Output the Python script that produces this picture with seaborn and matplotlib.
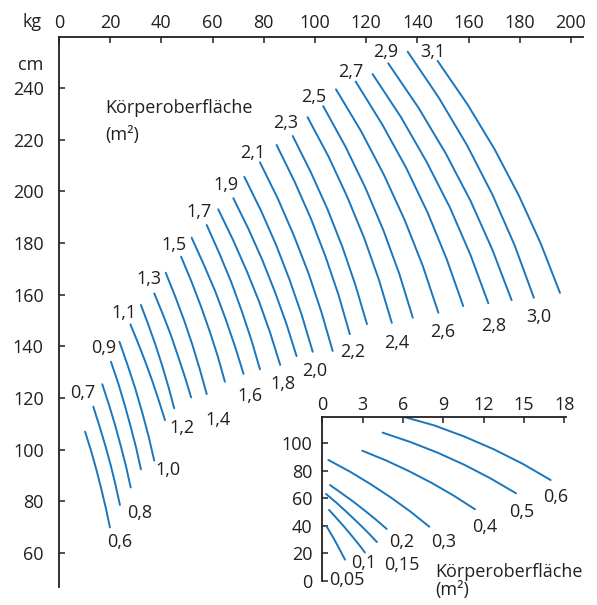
import matplotlib
matplotlib.use("Agg")
import matplotlib.pyplot as plt
import seaborn as sns
import pandas as pd

sns.set_theme(style="white")
plt.rcParams['font.family'] = ['Open Sans', 'DejaVu Sans']

BLUE = "#1a76bd"
INK = "#231f20"
FS = 13

# ---------------- main nomogram data (kg, cm) -----------------
main_bsa = [0.6, 0.7, 0.8, 0.9, 1.0, 1.1, 1.2, 1.3, 1.4, 1.5, 1.6, 1.7, 1.8,
            1.9, 2.0, 2.1, 2.2, 2.3, 2.4, 2.5, 2.6, 2.7, 2.8, 2.9, 3.0, 3.1]
main_kg = [
    [10.2, 12.5, 14.6, 16.5, 18.3, 19.9],
    [13.4, 15.8, 18.1, 20.2, 22.1, 23.8],
    [16.9, 19.5, 21.9, 24.1, 26.2, 28.0],
    [20.3, 23.1, 25.6, 27.9, 30.1, 32.0],
    [23.6, 26.8, 29.8, 32.5, 35.0, 37.2],
    [27.9, 30.9, 33.8, 36.5, 39.0, 41.4],
    [32.0, 35.0, 37.8, 40.4, 42.8, 45.0],
    [37.2, 40.5, 43.6, 46.4, 49.1, 51.6],
    [41.7, 45.4, 48.9, 52.1, 55.0, 57.7],
    [47.7, 51.7, 55.4, 58.8, 62.0, 64.8],
    [51.8, 56.5, 61.0, 65.0, 68.7, 72.1],
    [57.7, 62.6, 67.2, 71.3, 75.1, 78.5],
    [62.2, 67.9, 73.2, 78.1, 82.5, 86.4],
    [68.1, 74.0, 79.4, 84.3, 88.8, 92.8],
    [72.4, 78.9, 84.8, 90.1, 94.9, 99.1],
    [78.5, 85.5, 91.8, 97.5, 102.5, 106.9],
    [85.0, 92.0, 98.4, 104.1, 109.2, 113.6],
    [91.3, 98.4, 104.9, 110.7, 115.8, 120.3],
    [97.1, 105.3, 112.6, 119.2, 125.0, 130.0],
    [103.2, 111.9, 119.7, 126.7, 132.9, 138.2],
    [108.2, 118.1, 127.0, 135.0, 142.1, 148.2],
    [115.9, 126.2, 135.6, 144.0, 151.4, 157.9],
    [122.5, 133.6, 143.6, 152.7, 160.7, 167.7],
    [128.6, 140.4, 151.1, 160.8, 169.3, 176.8],
    [136.2, 148.4, 159.4, 169.3, 178.0, 185.5],
    [147.9, 159.6, 170.2, 179.7, 188.2, 195.7],
]
main_cm = [
    [106.9, 99.6, 92.2, 84.8, 77.3, 69.8],
    [116.6, 109.1, 101.5, 93.9, 86.2, 78.5],
    [125.3, 117.4, 109.5, 101.5, 93.4, 85.3],
    [134.0, 125.8, 117.5, 109.2, 100.8, 92.3],
    [141.8, 132.7, 123.6, 114.4, 105.1, 95.7],
    [148.5, 141.2, 133.8, 126.4, 118.9, 111.4],
    [156.0, 148.1, 140.2, 132.2, 124.1, 116.0],
    [160.5, 152.6, 144.6, 136.5, 128.4, 120.2],
    [168.5, 159.3, 150.0, 140.6, 131.1, 121.5],
    [174.7, 165.2, 155.6, 146.0, 136.2, 126.3],
    [182.1, 171.8, 161.4, 150.8, 140.1, 129.3],
    [187.0, 176.1, 165.1, 153.9, 142.6, 131.1],
    [193.1, 181.4, 169.5, 157.5, 145.2, 132.8],
    [197.4, 185.5, 173.5, 161.2, 148.8, 136.2],
    [205.7, 192.6, 179.3, 165.7, 151.9, 137.9],
    [211.3, 197.2, 182.8, 168.2, 153.3, 138.2],
    [218.0, 203.9, 189.5, 174.8, 159.9, 144.7],
    [221.5, 207.4, 193.1, 178.5, 163.7, 148.6],
    [228.8, 213.5, 197.9, 182.0, 165.7, 149.1],
    [233.1, 217.4, 201.4, 185.0, 168.2, 151.1],
    [239.6, 223.2, 206.3, 189.0, 171.2, 153.0],
    [242.6, 226.1, 209.2, 191.8, 173.9, 155.6],
    [245.5, 228.8, 211.5, 193.8, 175.5, 156.7],
    [249.7, 232.5, 214.7, 196.3, 177.4, 157.9],
    [254.2, 236.3, 217.9, 198.8, 179.1, 158.8],
    [250.6, 233.7, 216.3, 198.3, 179.8, 160.7],
]
main_ticks_kg = [0, 20, 40, 60, 80, 100, 120, 140, 160, 180, 200]
main_ticks_cm = [60, 80, 100, 120, 140, 160, 180, 200, 220, 240]

# ---------------- inset (infants) data -----------------
inset_bsa = [0.05, 0.1, 0.15, 0.2, 0.3, 0.4, 0.5, 0.6]
inset_kg = [
    [0.35, 0.63, 0.91, 1.17, 1.43, 1.69],
    [0.50, 1.06, 1.61, 2.14, 2.67, 3.17],
    [0.28, 1.08, 1.84, 2.60, 3.34, 4.06],
    [0.57, 1.44, 2.31, 3.15, 3.98, 4.79],
    [0.45, 2.04, 3.58, 5.09, 6.55, 7.96],
    [2.97, 4.73, 6.44, 8.12, 9.75, 11.35],
    [4.49, 6.56, 8.59, 10.58, 12.51, 14.40],
    [6.02, 8.32, 10.56, 12.76, 14.90, 16.98],
]
inset_cm = [
    [39.2, 34.5, 29.8, 25.1, 20.3, 15.5],
    [51.6, 45.6, 39.6, 33.4, 27.1, 20.7],
    [63.2, 56.6, 49.8, 42.8, 35.7, 28.3],
    [69.7, 63.7, 57.6, 51.2, 44.6, 37.8],
    [87.9, 79.5, 70.4, 60.7, 50.4, 39.4],
    [94.6, 87.6, 79.8, 71.3, 62.1, 52.1],
    [107.7, 100.9, 93.1, 84.3, 74.5, 63.7],
    [119.3, 113.0, 104.9, 95.6, 85.1, 73.3],
]
inset_ticks_kg = [0, 3, 6, 9, 12, 15, 18]
inset_ticks_cm = [0, 20, 40, 60, 80, 100]

# curve label text and placement (layout)
main_label_text = ["0,7", "0,9", "1,1", "1,3", "1,5", "1,7", "1,9", "2,1", "2,3",
                   "2,5", "2,7", "2,9", "3,1",
                   "0,6", "0,8", "1,0", "1,2", "1,4", "1,6", "1,8", "2,0", "2,2",
                   "2,4", "2,6", "2,8", "3,0"]
main_label_pos = [(9.4, 122.0), (17.4, 139.2), (25.4, 152.8), (35.0, 166.0),
                  (44.9, 179.3), (54.7, 192.2), (65.2, 202.5), (75.6, 214.8),
                  (88.5, 226.7), (99.6, 236.7), (114.1, 246.4), (127.7, 254.2),
                  (146.1, 254.1),
                  (23.7, 64.3), (31.6, 75.3), (42.7, 92.1), (48.2, 108.2),
                  (62.1, 111.3), (74.6, 120.7), (87.6, 125.4), (100.0, 130.5),
                  (114.9, 137.9), (131.9, 141.2), (149.8, 145.7), (169.7, 147.9),
                  (187.5, 151.4)]
inset_label_text = ["0,6", "0,5", "0,4", "0,3", "0,2", "0,15", "0,1", "0,05"]
inset_label_pos = [(17.36, 61.2), (14.82, 50.3), (12.10, 39.4), (9.0, 28.5),
                   (5.9, 28.5), (5.9, 11.6), (3.05, 12.9), (1.81, 0.7)]


def long_form(bsa, kgs, cms):
    rows = []
    for b, ks, cs in zip(bsa, kgs, cms):
        for k, c in zip(ks, cs):
            rows.append({"bsa": b, "kg": k, "cm": c})
    return pd.DataFrame(rows)


def style_axes(ax, xticks, yticks, xpad, ypad):
    ax.xaxis.tick_top()
    ax.set_xticks(xticks)
    ax.set_yticks(yticks)
    ax.set_xlabel("")
    ax.set_ylabel("")
    for s in ["right", "bottom"]:
        ax.spines[s].set_visible(False)
    for s in ["top", "left"]:
        ax.spines[s].set_color(INK)
        ax.spines[s].set_linewidth(1.3)
    ax.tick_params(axis="both", which="both", direction="in", length=4.3,
                   width=1.1, color=INK, labelcolor=INK, labelsize=FS,
                   bottom=False, right=False, top=True, left=True,
                   labelbottom=False, labeltop=True)
    ax.tick_params(axis="x", pad=xpad)
    ax.tick_params(axis="y", pad=ypad)
    ax.grid(False)


W, H = 597, 605
fig = plt.figure(figsize=(W / 100, H / 100), dpi=100)

# main axes
ax = fig.add_axes([59 / W, 18 / H, 524 / W, 550 / H])
sns.lineplot(data=long_form(main_bsa, main_kg, main_cm), x="kg", y="cm",
             units="bsa", estimator=None, sort=False, color=BLUE, lw=1.4,
             legend=False, ax=ax)
ax.set_xlim(0, 204.69)
ax.set_ylim(46.71, 259.88)
style_axes(ax, main_ticks_kg, main_ticks_cm, 3.4, 11.0)

for t, (x, y) in zip(main_label_text, main_label_pos):
    ax.text(x, y, t, ha="center", va="center", fontsize=FS, color=INK)
ax.text(18.0, 232.2, "Körperoberfläche", ha="left", va="center",
        fontsize=FS, color=INK)
ax.text(18.0, 221.9, "(m²)", ha="left", va="center", fontsize=FS, color=INK)

fig.text(32.5 / W, 1 - 21.7 / H, "kg", ha="center", va="center",
         fontsize=FS, color=INK)
fig.text(43.3 / W, 1 - 65 / H, "cm", ha="right", va="center",
         fontsize=FS, color=INK)

# inset axes
ax2 = fig.add_axes([322.3 / W, 24 / H, 243.7 / W, 164.3 / H])
ax2.set_facecolor("none")
sns.lineplot(data=long_form(inset_bsa, inset_kg, inset_cm), x="kg", y="cm",
             units="bsa", estimator=None, sort=False, color=BLUE, lw=1.4,
             legend=False, ax=ax2)
ax2.set_xlim(0, 18.12)
ax2.set_ylim(0, 119.3)
style_axes(ax2, inset_ticks_kg, inset_ticks_cm, 2.0, 7.2)

for t, (x, y) in zip(inset_label_text, inset_label_pos):
    ax2.text(x, y, t, ha="center", va="center", fontsize=FS, color=INK,
             clip_on=False)
ax2.text(8.38, 6.8, "Körperoberfläche", ha="left", va="center",
         fontsize=FS, color=INK, clip_on=False)
ax2.text(8.38, -6.5, "(m²)", ha="left", va="center", fontsize=FS,
         color=INK, clip_on=False)

fig.savefig("out.png", dpi=100, facecolor="white")
